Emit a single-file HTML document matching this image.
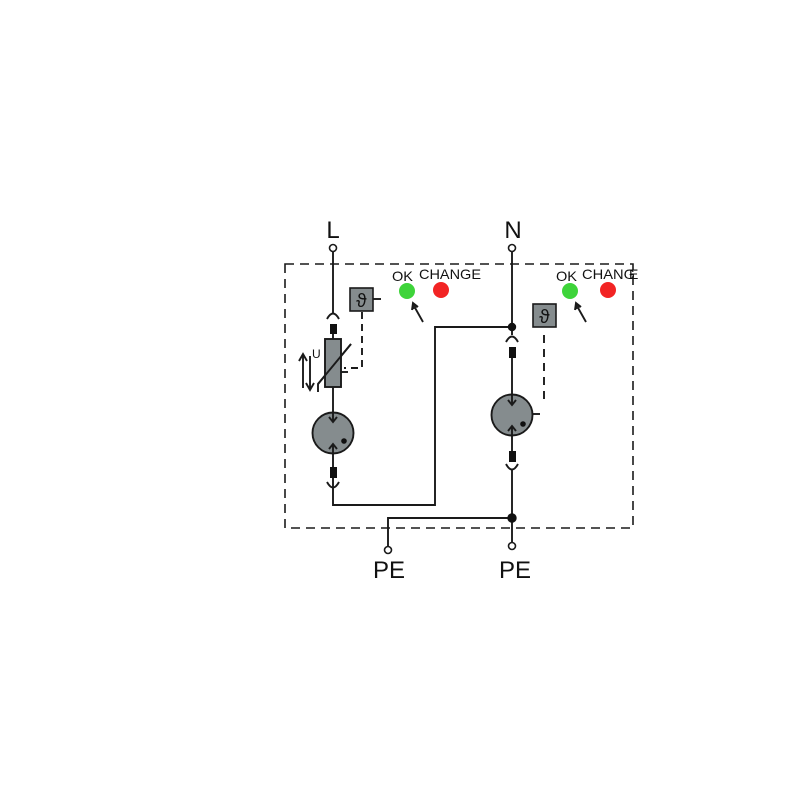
<!DOCTYPE html>
<html><head><meta charset="utf-8"><style>
html,body{margin:0;padding:0;background:#fff;width:800px;height:800px;overflow:hidden}
svg{display:block}
text{font-family:"Liberation Sans","DejaVu Sans",sans-serif;fill:#111}
</style></head><body>
<svg width="800" height="800" viewBox="0 0 800 800">
<g fill="none" stroke="#1a1a1a" stroke-width="1.9">
<rect x="285" y="264" width="348" height="264" stroke-dasharray="9,6" stroke-width="1.6"/>
<line x1="333" y1="251" x2="333" y2="313"/>
<path d="M327,319 Q333,308 339,319"/>
<line x1="333" y1="334" x2="333" y2="412"/>
<path d="M327,482 Q333,493 339,482"/>
<polyline points="333,478 333,505 435,505 435,327 512,327"/>
<line x1="512" y1="251" x2="512" y2="335"/>
<path d="M506,342 Q512,331 518,342"/>
<line x1="512" y1="358" x2="512" y2="395"/>
<line x1="512" y1="435" x2="512" y2="452"/>
<path d="M506,464 Q512,475 518,464"/>
<line x1="512" y1="470" x2="512" y2="543"/>
<polyline points="512,518 388,518 388,546"/>
<polyline points="362,312 362,368 344,368" stroke-dasharray="7,5"/>
<line x1="373" y1="299" x2="381" y2="299"/>
<line x1="544" y1="335" x2="544" y2="405" stroke-dasharray="8,6"/>
<line x1="532" y1="414" x2="540" y2="414"/>
<line x1="303" y1="356" x2="303" y2="388"/>
<path d="M299,361 L303,354 L307,361"/>
<line x1="310" y1="356" x2="310" y2="388"/>
<path d="M306,383 L310,390 L314,383"/>
<polyline points="318,392 318,384 351,344"/>
<line x1="341" y1="372" x2="348" y2="372"/>
<line x1="423" y1="322" x2="414" y2="306"/>
<path d="M412,310 L413,303 L418,307" fill="#222"/>
<line x1="586" y1="322" x2="577" y2="306"/>
<path d="M575,310 L576,303 L581,307" fill="#222"/>
</g>
<rect x="325" y="339" width="16" height="48" fill="#858c8e" stroke="#1a1a1a" stroke-width="1.9"/>
<line x1="318" y1="384" x2="351" y2="344" stroke="#1a1a1a" stroke-width="1.9"/>
<rect x="330" y="324" width="7" height="10" fill="#111"/>
<rect x="330" y="467" width="7" height="11" fill="#111"/>
<rect x="509" y="347" width="7" height="11" fill="#111"/>
<rect x="509" y="451" width="7" height="11" fill="#111"/>
<circle cx="333" cy="433" r="20.5" fill="#858c8e" stroke="#1a1a1a" stroke-width="1.9"/>
<circle cx="512" cy="415" r="20.5" fill="#858c8e" stroke="#1a1a1a" stroke-width="1.9"/>
<g stroke="#1a1a1a" stroke-width="1.9" fill="none">
<line x1="333" y1="413" x2="333" y2="421"/><path d="M329,417 L333,422 L337,417"/>
<line x1="333" y1="453" x2="333" y2="444"/><path d="M329,449 L333,444 L337,449"/>
<line x1="333" y1="453" x2="333" y2="467"/>
<line x1="512" y1="395" x2="512" y2="404"/><path d="M508,400 L512,405 L516,400"/>
<line x1="512" y1="435" x2="512" y2="426"/><path d="M508,431 L512,426 L516,431"/>
</g>
<circle cx="344" cy="441" r="2.8" fill="#111"/>
<circle cx="523" cy="424" r="2.8" fill="#111"/>
<circle cx="512" cy="327" r="4.2" fill="#111"/>
<circle cx="512" cy="518" r="4.7" fill="#111"/>
<g fill="#fff" stroke="#1a1a1a" stroke-width="1.6">
<circle cx="333" cy="248" r="3.5"/>
<circle cx="512" cy="248" r="3.5"/>
<circle cx="388" cy="550" r="3.5"/>
<circle cx="512" cy="546" r="3.5"/>
</g>
<rect x="350" y="288" width="23" height="23" fill="#858c8e" stroke="#1a1a1a" stroke-width="1.6"/>
<rect x="533" y="304" width="23" height="23" fill="#858c8e" stroke="#1a1a1a" stroke-width="1.6"/>
<text x="361.5" y="307" font-size="19" text-anchor="middle" font-family="DejaVu Serif,serif">ϑ</text>
<text x="544.5" y="323" font-size="19" text-anchor="middle" font-family="DejaVu Serif,serif">ϑ</text>
<circle cx="407" cy="291" r="8" fill="#3ed43a"/>
<circle cx="441" cy="290" r="8" fill="#f22424"/>
<circle cx="570" cy="291" r="8" fill="#3ed43a"/>
<circle cx="608" cy="290" r="8" fill="#f22424"/>
<text x="392" y="281" font-size="14" textLength="21" lengthAdjust="spacingAndGlyphs">OK</text>
<text x="419" y="279" font-size="14" textLength="62" lengthAdjust="spacingAndGlyphs">CHANGE</text>
<text x="556" y="281" font-size="14" textLength="21" lengthAdjust="spacingAndGlyphs">OK</text>
<text x="582" y="279" font-size="14" textLength="53" lengthAdjust="spacingAndGlyphs">CHANG</text>
<text x="629" y="279" font-size="14">E</text>
<text x="312" y="358" font-size="12">U</text>
<text x="333" y="238" font-size="24" text-anchor="middle">L</text>
<text x="513" y="238" font-size="24" text-anchor="middle">N</text>
<text x="389" y="578" font-size="24" text-anchor="middle">PE</text>
<text x="515" y="578" font-size="24" text-anchor="middle">PE</text>
</svg>
</body></html>
